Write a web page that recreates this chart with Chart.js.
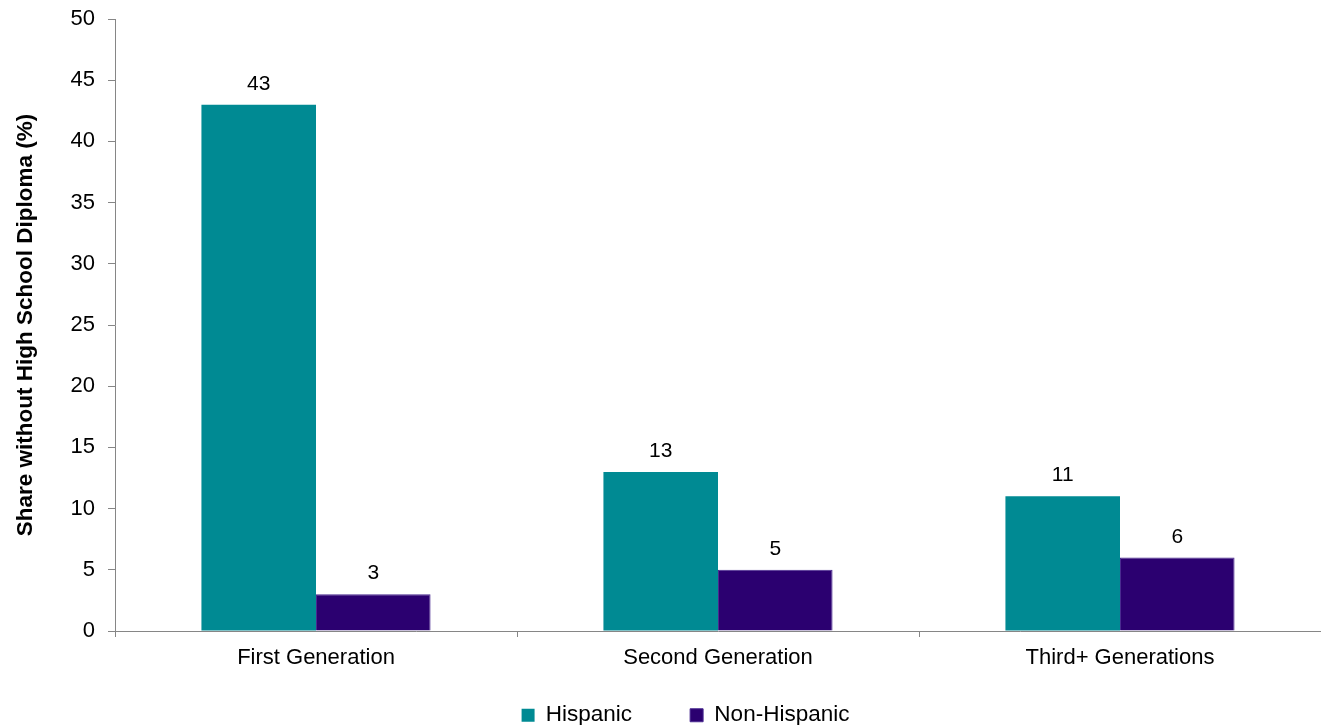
<!DOCTYPE html>
<html>
<head>
<meta charset="utf-8">
<script src="https://cdn.jsdelivr.net/npm/chart.js@4/dist/chart.umd.min.js"></script>
<style>
html,body{margin:0;padding:0;background:#fff;}
#wrap{width:1321px;height:725px;position:relative;}
</style>
</head>
<body>
<div id="wrap"><canvas id="c" width="1321" height="725"></canvas></div>
<script>
const categories = ["First Generation", "Second Generation", "Third+ Generations"];
const hispanic = [43, 13, 11];
const nonHispanic = [3, 5, 6];
const seriesNames = ["Hispanic", "Non-Hispanic"];
const yTitle = "Share without High School Diploma (%)";

const FONT = "'Liberation Sans', Arial, sans-serif";

const labelPlugin = {
  id: 'valueLabels',
  afterDatasetsDraw(chart) {
    const ctx = chart.ctx;
    ctx.save();
    ctx.font = "21px " + FONT;
    ctx.fillStyle = "#000";
    ctx.textAlign = "center";
    ctx.textBaseline = "alphabetic";
    chart.data.datasets.forEach((ds, i) => {
      const meta = chart.getDatasetMeta(i);
      meta.data.forEach((bar, j) => {
        ctx.fillText(String(ds.data[j]), bar.x, bar.y - 15);
      });
    });
    ctx.restore();
  }
};

const legendShift = {
  id: 'legendShift',
  afterLayout(chart) {
    const lg = chart.legend;
    if (lg) {
      lg.left = 25; lg.right = chart.width + 25;
      lg.top = 646; lg.bottom = 728;
    }
  }
};

new Chart(document.getElementById('c'), {
  type: 'bar',
  data: {
    labels: categories,
    datasets: [
      { label: seriesNames[0], data: hispanic, backgroundColor: '#008A93', borderWidth: 0 },
      { label: seriesNames[1], data: nonHispanic, backgroundColor: '#2B0070', borderColor: '#4A2A90', borderWidth: 1 }
    ]
  },
  options: {
    responsive: false,
    animation: false,
    devicePixelRatio: 1,
    layout: { padding: { top: 19, right: 0, left: 0, bottom: 0 } },
    datasets: { bar: { categoryPercentage: 0.57, barPercentage: 1.0 } },
    plugins: {
      legend: {
        position: 'bottom',
        maxHeight: 52,
        labels: {
          font: { family: FONT, size: 22.5 },
          color: '#000',
          boxWidth: 13,
          boxHeight: 13,
          padding: 58
        }
      },
      tooltip: { enabled: false }
    },
    scales: {
      x: {
        grid: { display: true, drawOnChartArea: false, offset: true, tickLength: 6, color: '#868686', lineWidth: 1 },
        border: { color: '#868686', width: 1 },
        ticks: { font: { family: FONT, size: 22 }, color: '#000', padding: 8 },
        afterFit(scale) { scale.height = 42; scale.paddingLeft = 0; }
      },
      y: {
        min: 0, max: 50,
        grid: { display: true, drawOnChartArea: false, tickLength: 7, color: '#868686' },
        border: { color: '#868686', width: 1 },
        ticks: { stepSize: 5, font: { family: FONT, size: 22 }, color: '#000', padding: 13 },
        title: { display: true, text: yTitle, font: { family: FONT, size: 22.5, weight: 'bold' }, color: '#000', padding: { top: 12, bottom: 0 } },
        afterFit(scale) { scale.width = 115; scale.paddingTop = 0; scale.paddingBottom = 0; }
      }
    }
  },
  plugins: [labelPlugin, legendShift]
});
</script>
</body>
</html>
